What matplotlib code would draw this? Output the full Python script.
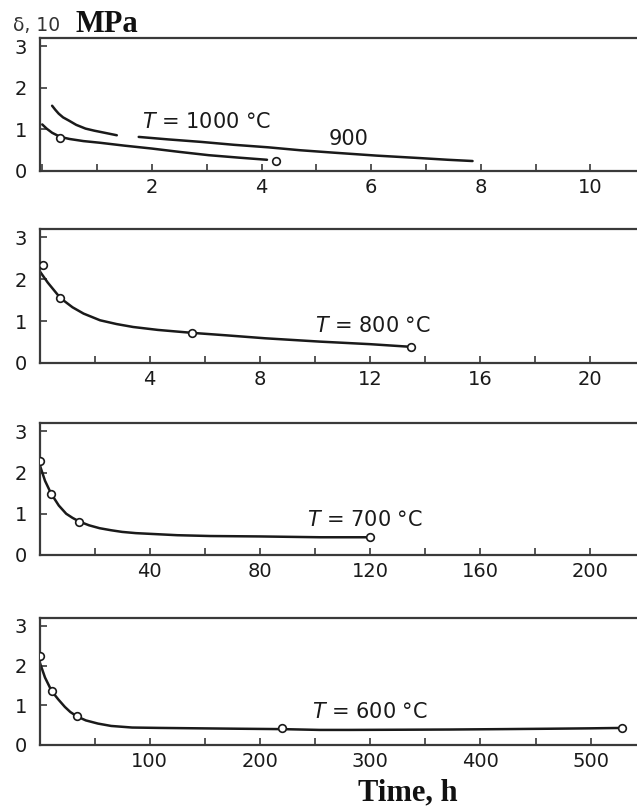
import matplotlib
matplotlib.use("Agg")
import matplotlib.pyplot as plt
from matplotlib.ticker import MultipleLocator, FixedLocator

# ---------------- data ----------------
# Panel 1 (T = 1000 °C and 900 °C)
p1_1000_x = [0.0, 0.08, 0.18, 0.33, 0.5, 0.75, 1.05, 1.5, 2.0, 2.5, 3.04, 3.6, 4.1]
p1_1000_y = [1.12, 1.02, 0.92, 0.82, 0.77, 0.72, 0.68, 0.61, 0.54, 0.46, 0.38, 0.32, 0.27]
p1_1000_mx = [0.33, 4.27]
p1_1000_my = [0.80, 0.25]
p1_900a_x = [0.18, 0.24, 0.3, 0.38, 0.49, 0.62, 0.79, 0.95, 1.1, 1.36]
p1_900a_y = [1.57, 1.47, 1.38, 1.29, 1.21, 1.11, 1.02, 0.97, 0.93, 0.86]
p1_900b_x = [1.76, 2.3, 2.9, 3.5, 4.12, 4.7, 5.33, 6.1, 6.9, 7.4, 7.85]
p1_900b_y = [0.82, 0.76, 0.70, 0.63, 0.57, 0.50, 0.44, 0.37, 0.31, 0.27, 0.24]

# Panel 2 (T = 800 °C)
p2_x = [0.0, 0.3, 0.76, 1.2, 1.6, 2.2, 2.8, 3.4, 4.3, 5.54, 6.8, 8.2, 10.2, 12.0, 13.4]
p2_y = [2.2, 1.92, 1.55, 1.33, 1.18, 1.02, 0.93, 0.86, 0.79, 0.72, 0.66, 0.59, 0.51, 0.45, 0.39]
p2_mx = [0.12, 0.76, 5.54, 13.5]
p2_my = [2.35, 1.55, 0.72, 0.39]

# Panel 3 (T = 700 °C)
p3_x = [0, 2, 4.2, 7, 9.7, 12, 14.5, 18, 21.8, 26, 30, 35, 41, 50, 62, 80, 102, 119]
p3_y = [2.2, 1.8, 1.49, 1.2, 1.0, 0.9, 0.81, 0.72, 0.65, 0.6, 0.56, 0.53, 0.51, 0.48, 0.46, 0.45, 0.43, 0.43]
p3_mx = [0, 4.2, 14.5, 120]
p3_my = [2.28, 1.49, 0.81, 0.43]

# Panel 4 (T = 600 °C)
p4_x = [0, 5, 11, 17, 23, 28, 34, 42, 53, 65, 84, 110, 145, 180, 220, 254, 281, 330, 372, 420, 463, 500, 528]
p4_y = [2.1, 1.7, 1.36, 1.15, 0.96, 0.83, 0.72, 0.62, 0.54, 0.48, 0.44, 0.43, 0.42, 0.41, 0.40, 0.38, 0.38, 0.385, 0.39, 0.40, 0.41, 0.42, 0.43]
p4_mx = [0, 11, 34, 220, 528]
p4_my = [2.25, 1.36, 0.72, 0.42, 0.44]

y_ticks = [0, 1, 2, 3]
x_major = [[2, 4, 6, 8, 10], [4, 8, 12, 16, 20], [40, 80, 120, 160, 200], [100, 200, 300, 400, 500]]
x_minor_step = [1, 2, 20, 50]
x_limits = [(-0.05, 10.85), (0, 21.7), (0, 217), (0, 542)]

labels = [r"$T$ = 1000 °C", r"$T$ = 800 °C", r"$T$ = 700 °C", r"$T$ = 600 °C"]
label_pos = [(1.82, 1.17), (10.0, 0.88), (97, 0.85), (247, 0.83)]

# ---------------- layout ----------------
W, H = 637, 809
fig = plt.figure(figsize=(W / 100, H / 100), dpi=100)
left_px = 39.5
panels_px = [(38, 171), (229, 363), (423, 555), (618, 745)]

ink = "#1a1a1a"
spine_c = "#3a3a3a"
fs = 14
fs_lab = 15

axes = []
for i, (top, bot) in enumerate(panels_px):
    ax = fig.add_axes([left_px / W, 1 - bot / H, 1 - left_px / W, (bot - top) / H])
    ax.set_xlim(*x_limits[i])
    ax.set_ylim(0, 3.2)
    ax.spines["right"].set_visible(False)
    for s in ["left", "top", "bottom"]:
        ax.spines[s].set_color(spine_c)
        ax.spines[s].set_linewidth(1.6)
    ax.xaxis.set_major_locator(FixedLocator(x_major[i]))
    ax.xaxis.set_minor_locator(MultipleLocator(x_minor_step[i]))
    ax.yaxis.set_major_locator(FixedLocator(y_ticks))
    ax.tick_params(axis="x", which="both", direction="in", length=5, width=1.2,
                   color=spine_c, labelsize=fs, labelcolor=ink, pad=5, top=False)
    ax.tick_params(axis="y", which="major", direction="in", length=5, width=1.2,
                   color=spine_c, labelsize=fs, labelcolor=ink, pad=9, right=False)
    ax.set_facecolor("white")
    axes.append(ax)

line_kw = dict(color=ink, lw=1.8, solid_capstyle="round", solid_joinstyle="round", zorder=2)
mk_kw = dict(ls="none", marker="o", ms=5.5, mfc="white", mec=ink, mew=1.2, zorder=3)

ax = axes[0]
ax.plot(p1_1000_x, p1_1000_y, **line_kw)
ax.plot(p1_1000_mx, p1_1000_my, **mk_kw)
ax.plot(p1_900a_x, p1_900a_y, **line_kw)
ax.plot(p1_900b_x, p1_900b_y, **line_kw)
ax.text(5.58, 0.78, "900", fontsize=fs_lab, color=ink, ha="center", va="center")

ax = axes[1]
ax.plot(p2_x, p2_y, **line_kw)
ax.plot(p2_mx, p2_my, **mk_kw)

ax = axes[2]
ax.plot(p3_x, p3_y, **line_kw)
ax.plot(p3_mx, p3_my, **mk_kw)

ax = axes[3]
ax.plot(p4_x, p4_y, **line_kw)
ax.plot(p4_mx, p4_my, **mk_kw)

for ax, lab, (lx, ly) in zip(axes, labels, label_pos):
    ax.text(lx, ly, lab, fontsize=fs_lab, color=ink, ha="left", va="center")

# titles
fig.text(13 / W, 1 - 31 / H, "δ, 10", fontsize=13.5, color="#333333", ha="left", va="baseline")
fig.text(76 / W, 1 - 32 / H, "MPa", fontsize=22, fontweight="bold",
         family="Liberation Serif", color="#111111", ha="left", va="baseline")
fig.text(408 / W, 1 - 800 / H, "Time, h", fontsize=22, fontweight="bold",
         family="Liberation Serif", color="#111111", ha="center", va="baseline")

fig.savefig("out.png", dpi=100, facecolor="white")
